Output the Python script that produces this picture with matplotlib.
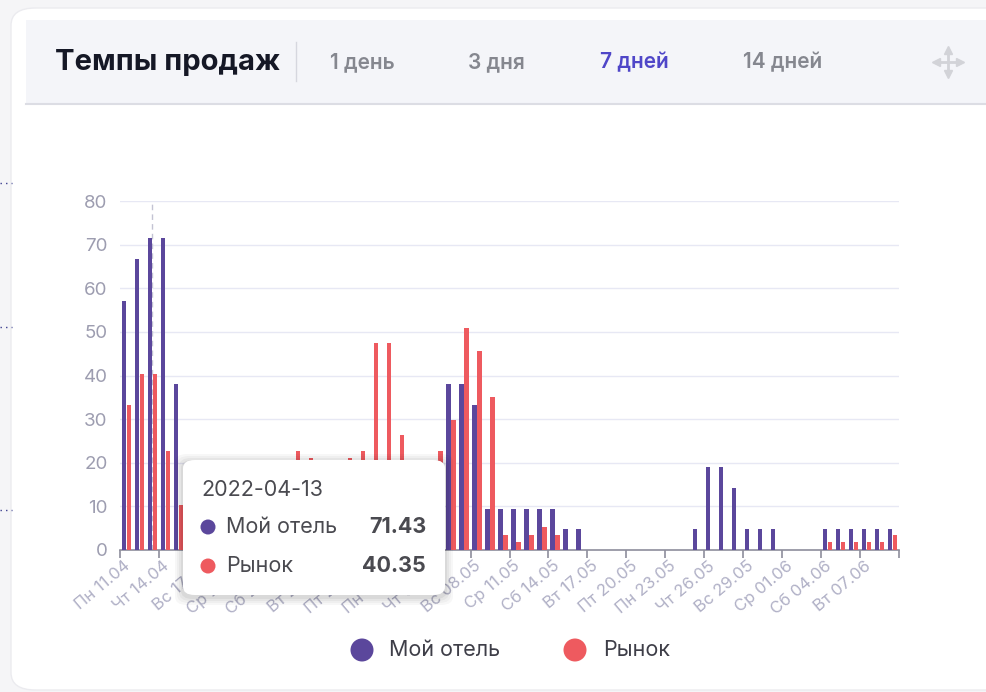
import matplotlib
matplotlib.use('Agg')
import matplotlib.pyplot as plt
import numpy as np
from matplotlib.patches import FancyBboxPatch, Rectangle, Ellipse
from matplotlib.lines import Line2D

# Темпы продаж, 11.04 - 09.06 (60 дней), значения считаны с картинки
# дни 5..24 у "Мой отель" скрыты подсказкой -> 0
my_hotel = [57.1, 66.7, 71.43, 71.43, 38.1, 0, 0, 0, 0, 0,
            0, 0, 0, 0, 0, 0, 0, 0, 0, 0,
            0, 0, 0, 0, 0, 38.1, 38.1, 33.3, 9.5, 9.5,
            9.5, 9.5, 9.5, 9.5, 4.8, 4.8, 0, 0, 0, 0,
            0, 0, 0, 0, 4.8, 19.0, 19.0, 14.3, 4.8, 4.8,
            4.8, 0, 0, 0, 4.8, 4.8, 4.8, 4.8, 4.8, 4.8]
market = [33.3, 40.35, 40.35, 22.7, 10.3, 0, 0, 0, 0, 0,
          0, 0, 0, 22.7, 21.1, 0, 0, 21.0, 22.7, 47.4,
          47.4, 26.3, 0, 0, 22.7, 29.8, 50.9, 45.6, 35.1, 3.5,
          1.8, 3.5, 5.3, 3.5, 0, 0, 0, 0, 0, 0,
          0, 0, 0, 0, 0, 0, 0, 0, 0, 0,
          0, 0, 0, 0, 1.8, 1.8, 1.8, 1.8, 1.8, 3.5]
tick_labels = ['Пн 11.04', 'Чт 14.04', 'Вс 17.04', 'Ср 20.04', 'Сб 23.04',
               'Вт 26.04', 'Пт 29.04', 'Пн 02.05', 'Чт 05.05', 'Вс 08.05',
               'Ср 11.05', 'Сб 14.05', 'Вт 17.05', 'Пт 20.05', 'Пн 23.05',
               'Чт 26.05', 'Вс 29.05', 'Ср 01.06', 'Сб 04.06', 'Вт 07.06']
series_names = ['Мой отель', 'Рынок']
tabs = ['1 день', '3 дня', '7 дней', '14 дней']
tooltip_date = '2022-04-13'
tooltip_day = 2

PURPLE = '#5b479c'
RED = '#ee5a5f'
W, H = 986, 692

plt.rcParams['font.family'] = ['Inter', 'DejaVu Sans']


def fx(x):
    return x / W


def fy(y):
    return 1 - y / H


fig = plt.figure(figsize=(W / 100, H / 100), dpi=100)
fig.patch.set_facecolor('#f5f5f7')

# карточка и шапка
fig.add_artist(FancyBboxPatch((fx(11), fy(690)), fx(1100), 682 / H,
                              boxstyle='round,pad=0,rounding_size=0.025',
                              transform=fig.transFigure, fc='white', ec='#ebebef',
                              lw=1, zorder=-3))
fig.add_artist(Rectangle((fx(26), fy(104)), fx(970), 84 / H, transform=fig.transFigure,
                         fc='#f4f5f9', ec='none', zorder=-2))
fig.add_artist(Line2D([fx(26), 1], [fy(104), fy(104)], transform=fig.transFigure,
                      color='#dcdde4', lw=1.5, zorder=-2))
fig.add_artist(Line2D([fx(296), fx(296)], [fy(42), fy(81)], transform=fig.transFigure,
                      color='#d6d7df', lw=1, zorder=-2))
fig.text(fx(55), fy(62), 'Темпы продаж', fontsize=21, fontweight='bold',
         color='#151826', va='center', ha='left')
for t, x in zip(tabs, [330, 468, 600, 743]):
    fig.text(fx(x), fy(62), t, fontsize=15, fontweight='semibold', va='center', ha='left',
             color='#4f46c8' if t == '7 дней' else '#85878f')

# значок перемещения
cx, cy = 948, 62
for dx, dy in [(1, 0), (-1, 0), (0, 1), (0, -1)]:
    fig.add_artist(Line2D([fx(cx), fx(cx + dx * 10)], [fy(cy), fy(cy + dy * 10)],
                          transform=fig.transFigure, color='#d2d3d8', lw=2))
    fig.add_artist(Line2D([fx(cx + dx * 12)], [fy(cy + dy * 12)], transform=fig.transFigure,
                          marker={(1, 0): '>', (-1, 0): '<', (0, 1): 'v', (0, -1): '^'}[(dx, dy)],
                          color='#d2d3d8', ms=6, lw=0))

# точки слева
for y in [183, 327, 510]:
    fig.add_artist(Line2D([0, fx(12)], [fy(y), fy(y)], transform=fig.transFigure,
                          color='#3b3f8f', lw=1, ls=(0, (1, 3))))

ax = fig.add_axes([fx(120), fy(550), fx(779), 349 / H])
ax.set_facecolor('none')
x = np.arange(len(my_hotel))
off = 2.5 / 12.98
ax.bar(x - off, my_hotel, width=0.33, color=PURPLE, zorder=3)
ax.bar(x + off, market, width=0.33, color=RED, zorder=3)
ax.axvline(tooltip_day, color='#c3c3d3', lw=1, ls=(0, (4, 3)), zorder=2)

ax.set_xlim(-0.5, len(my_hotel) - 0.5)
ax.set_ylim(0, 80)
ax.set_yticks(np.arange(0, 81, 10))
ax.grid(axis='y', color='#e7e8f4', lw=1, zorder=0)
ax.tick_params(axis='y', length=0, pad=9, labelsize=13.5, labelcolor='#9d9db0')
for s in ['left', 'right', 'top']:
    ax.spines[s].set_visible(False)
ax.spines['bottom'].set_color('#8e8e9c')
ax.spines['bottom'].set_linewidth(1.2)

ax.set_xticks(np.arange(0, len(my_hotel) + 1, 3) - 0.5)
ax.set_xticklabels([])
ax.tick_params(axis='x', which='major', length=6, color='#8e8e9c', width=1.2)
ax.set_xticks(np.arange(0, len(my_hotel), 3) - 0.2, minor=True)
ax.set_xticklabels(tick_labels, minor=True, rotation=40, ha='right', va='top',
                   rotation_mode='anchor', fontsize=12, color='#b0b0c6')
ax.tick_params(axis='x', which='minor', length=0, pad=6)

# легенда
for name, col, xc, xt in zip(series_names, [PURPLE, RED], [362, 575], [389, 603]):
    fig.add_artist(Ellipse((fx(xc), fy(650)), 23 / W, 23 / H, transform=fig.transFigure,
                           fc=col, ec='none'))
    fig.text(fx(xt), fy(650), name, fontsize=15.5, color='#3e3e48', va='center', ha='left')

# подсказка
for i, a in enumerate([0.03, 0.03, 0.04, 0.05]):
    g = 8 - 2 * i
    fig.add_artist(FancyBboxPatch((fx(183 - g), fy(595 + g + 2)), (262 + 2 * g) / W,
                                  (135 + 2 * g) / H,
                                  boxstyle='round,pad=0,rounding_size=0.012',
                                  transform=fig.transFigure, fc='black', ec='none',
                                  alpha=a, zorder=10))
fig.add_artist(FancyBboxPatch((fx(183), fy(595)), 262 / W, 135 / H,
                              boxstyle='round,pad=0,rounding_size=0.012',
                              transform=fig.transFigure, fc='white', ec='none', zorder=11))
fig.text(fx(201), fy(490), tooltip_date, fontsize=15.5, color='#4a4a50', va='center',
         ha='left', zorder=12)
for name, col, val, y in zip(series_names, [PURPLE, RED],
                             [my_hotel[tooltip_day], market[tooltip_day]], [527, 566]):
    fig.add_artist(Ellipse((fx(208), fy(y)), 15 / W, 15 / H, transform=fig.transFigure,
                           fc=col, ec='none', zorder=12))
    fig.text(fx(226), fy(y), name, fontsize=15.5, color='#4a4a50', va='center', ha='left',
             zorder=12)
    fig.text(fx(426), fy(y), f'{val:.2f}', fontsize=15.5, fontweight='bold', color='#4a4a50',
             va='center', ha='right', zorder=12)

fig.savefig('out.png', dpi=100)
